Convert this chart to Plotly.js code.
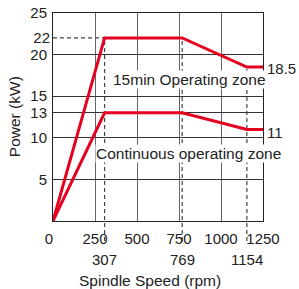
<!DOCTYPE html>
<html><head><meta charset="utf-8">
<script src="https://cdn.plot.ly/plotly-3.0.1.min.js"></script>
<style>html,body{margin:0;padding:0;background:#fff;}#c{width:299px;height:289px;}</style>
</head><body><div id="c"></div>
<script>
const speed = [0, 307, 769, 1154, 1250];
const power15 = [0, 22, 22, 18.5, 18.5];
const powerCont = [0, 13, 13, 11, 11];
const xTicks = [0, 250, 500, 750, 1000, 1250];
const yGridTicks = [5, 10, 13, 15, 20, 25];
const yExtraTicks = [22];
const cornerIdx = [1, 2, 3];
const zone15Label = "15min Operating zone";
const zoneContLabel = "Continuous operating zone";

const FONT = "Liberation Sans, Arial, sans-serif";
const RED = "#e60020";
const yMax = 25, xMax = 1250;

const traces = [
  {x: speed, y: power15, mode: "lines", line: {color: RED, width: 3}, cliponaxis: false, hoverinfo: "skip"},
  {x: speed, y: powerCont, mode: "lines", line: {color: RED, width: 3}, cliponaxis: false, hoverinfo: "skip"},
  {x: [0], y: [22], yaxis: "y2", mode: "markers", marker: {opacity: 0}, hoverinfo: "skip"}
];

const shapes = [];
cornerIdx.forEach(i => {
  shapes.push({type: "line", xref: "x", yref: "paper", x0: speed[i], x1: speed[i],
    y0: -0.096, y1: power15[i] / yMax, layer: "below",
    line: {color: "#444", width: 1.2, dash: "4px,3px"}});
});
shapes.push({type: "line", xref: "x", yref: "y", x0: speed[0], x1: speed[1],
  y0: power15[1], y1: power15[1], layer: "below",
  line: {color: "#444", width: 1.2, dash: "4px,3px"}});

const annotations = [];
cornerIdx.forEach(i => {
  annotations.push({x: speed[i], y: -0.183, xref: "x", yref: "paper", text: String(speed[i]),
    showarrow: false, xanchor: "center", yanchor: "middle", font: {family: FONT, size: 15, color: "#222"}});
});
annotations.push({x: speed[4], y: power15[4], xref: "x", yref: "y", text: String(power15[4]),
  showarrow: false, xanchor: "left", yanchor: "middle", xshift: 2, yshift: -1, font: {family: FONT, size: 15, color: "#222"}});
annotations.push({x: speed[4], y: powerCont[4], xref: "x", yref: "y", text: String(powerCont[4]),
  showarrow: false, xanchor: "left", yanchor: "middle", xshift: 2, yshift: -3, font: {family: FONT, size: 15, color: "#222"}});
annotations.push({x: 815, y: 16.95, xref: "x", yref: "y", text: zone15Label, bgcolor: "#fff", borderpad: 0,
  showarrow: false, xanchor: "center", yanchor: "middle", font: {family: FONT, size: 15.5, color: "#222"}});
annotations.push({x: 808, y: 8.15, xref: "x", yref: "y", text: zoneContLabel, bgcolor: "#fff", borderpad: 0,
  showarrow: false, xanchor: "center", yanchor: "middle", font: {family: FONT, size: 15.5, color: "#222"}});
annotations.push({x: 0.46, y: -0.285, xref: "paper", yref: "paper", text: "Spindle Speed (rpm)",
  showarrow: false, xanchor: "center", yanchor: "middle", font: {family: FONT, size: 15.5, color: "#222"}});
annotations.push({x: -0.185, y: 0.5, xref: "paper", yref: "paper", text: "Power (kW)", textangle: -90,
  showarrow: false, xanchor: "center", yanchor: "middle", font: {family: FONT, size: 15.5, color: "#222"}});

const layout = {
  width: 299, height: 289,
  margin: {l: 53, r: 36, t: 13, b: 68},
  paper_bgcolor: "#fff", plot_bgcolor: "#fff",
  showlegend: false,
  font: {family: FONT, size: 15, color: "#222"},
  xaxis: {range: [0, xMax], tickvals: xTicks, ticktext: xTicks.map(v => v === 0 ? "0\u00a0\u00a0" : String(v)), showgrid: true, gridcolor: "#666", gridwidth: 1,
    zeroline: false, showline: true, linecolor: "#222", linewidth: 1, mirror: true, ticks: "", ticklabelstandoff: 4,
    tickfont: {family: FONT, size: 15, color: "#222"}, fixedrange: true},
  yaxis: {range: [0, yMax], tickvals: yGridTicks, ticktext: yGridTicks.map(String), showgrid: true, gridcolor: "#333", gridwidth: 1,
    zeroline: false, showline: true, linecolor: "#222", linewidth: 1, mirror: true, ticks: "", ticklabelstandoff: 2,
    tickfont: {family: FONT, size: 15, color: "#222"}, fixedrange: true},
  yaxis2: {overlaying: "y", range: [0, yMax], tickvals: yExtraTicks, ticktext: yExtraTicks.map(String), showgrid: false,
    zeroline: false, showline: false, ticks: "", side: "left", ticklabelstandoff: 2,
    tickfont: {family: FONT, size: 15, color: "#222"}, fixedrange: true},
  shapes: shapes,
  annotations: annotations
};
Plotly.newPlot("c", traces, layout, {staticPlot: true, displayModeBar: false});
</script></body></html>
